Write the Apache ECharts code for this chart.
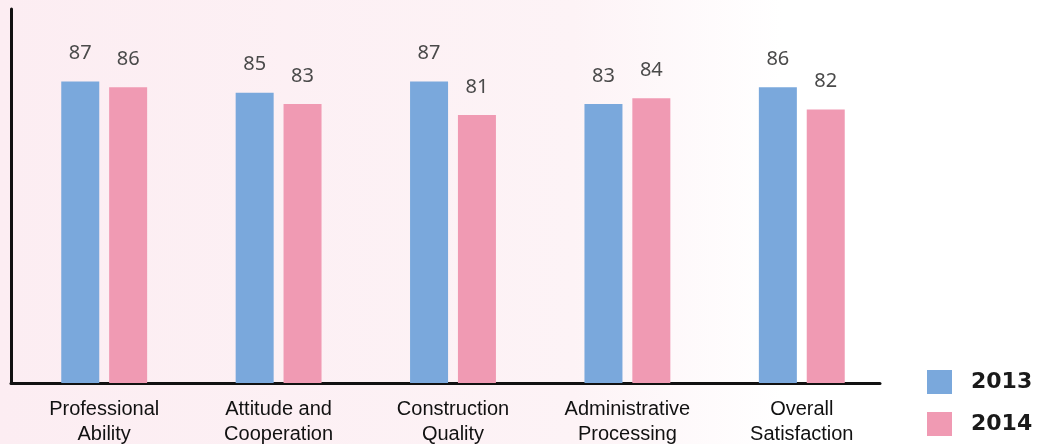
<!DOCTYPE html>
<html>
<head>
<meta charset="utf-8">
<script src="https://cdn.jsdelivr.net/npm/echarts@6/dist/echarts.min.js"></script>
<style>html,body{margin:0;padding:0;background:#fff;}#chart{width:1042px;height:444px;}</style>
</head>
<body>
<div id="chart"></div>
<script>
const categories = ['Professional\nAbility', 'Attitude and\nCooperation', 'Construction\nQuality', 'Administrative\nProcessing', 'Overall\nSatisfaction'];
const seriesNames = ['2013', '2014'];
const values2013 = [87, 85, 87, 83, 86];
const values2014 = [86, 83, 81, 84, 82];

const chart = echarts.init(document.getElementById('chart'), null, {renderer: 'canvas'});
const labelStyle = {
  show: true, position: 'top', distance: 18,
  fontFamily: 'Noto Sans', fontSize: 20, color: '#4a4a4a'
};
chart.setOption({
  animation: false,
  backgroundColor: new echarts.graphic.LinearGradient(0, 0, 1, 0, [
    {offset: 0, color: '#fcedf2'},
    {offset: 0.55, color: '#fdf3f6'},
    {offset: 0.75, color: '#ffffff'},
    {offset: 1, color: '#ffffff'}
  ]),
  legend: {
    orient: 'vertical', left: 922, top: 365,
    itemWidth: 25, itemHeight: 24, itemGap: 18,
    icon: 'rect',
    textStyle: {fontFamily: 'DejaVu Sans', fontWeight: 'bold', fontSize: 22, color: '#1a1a1a', padding: [0, 0, 0, 14]},
    data: seriesNames
  },
  grid: [
    {left: 17, right: 153, top: 9, bottom: 61, outerBoundsMode: 'none', containLabel: false},
    {left: 11, right: 162, top: 9, bottom: 61, outerBoundsMode: 'none', containLabel: false}
  ],
  xAxis: [
    {type: 'category', gridIndex: 0, data: categories,
     axisLine: {show: false}, axisTick: {show: false},
     axisLabel: {margin: 14, fontFamily: 'Liberation Sans', fontSize: 20, lineHeight: 25, color: '#111', interval: 0}},
    {type: 'category', gridIndex: 1, data: categories,
     axisLine: {show: true, lineStyle: {color: '#111', width: 3}},
     axisTick: {show: false}, axisLabel: {show: false}}
  ],
  yAxis: [
    {type: 'value', gridIndex: 0, min: 33, max: 100,
     axisLine: {show: false}, axisTick: {show: false}, axisLabel: {show: false}, splitLine: {show: false}},
    {type: 'value', gridIndex: 1, min: 0, max: 100,
     axisLine: {show: true, lineStyle: {color: '#111', width: 3}},
     axisTick: {show: false}, axisLabel: {show: false}, splitLine: {show: false}}
  ],
  series: [
    {name: seriesNames[0], type: 'bar', xAxisIndex: 0, yAxisIndex: 0, data: values2013,
     barWidth: 38, barGap: '26%', itemStyle: {color: '#7aa8dc'}, label: labelStyle},
    {name: seriesNames[1], type: 'bar', xAxisIndex: 0, yAxisIndex: 0, data: values2014,
     barWidth: 38, barGap: '26%', itemStyle: {color: '#f09ab3'}, label: labelStyle},
    {type: 'bar', xAxisIndex: 1, yAxisIndex: 1, data: [], silent: true}
  ]
});
</script>
</body>
</html>
